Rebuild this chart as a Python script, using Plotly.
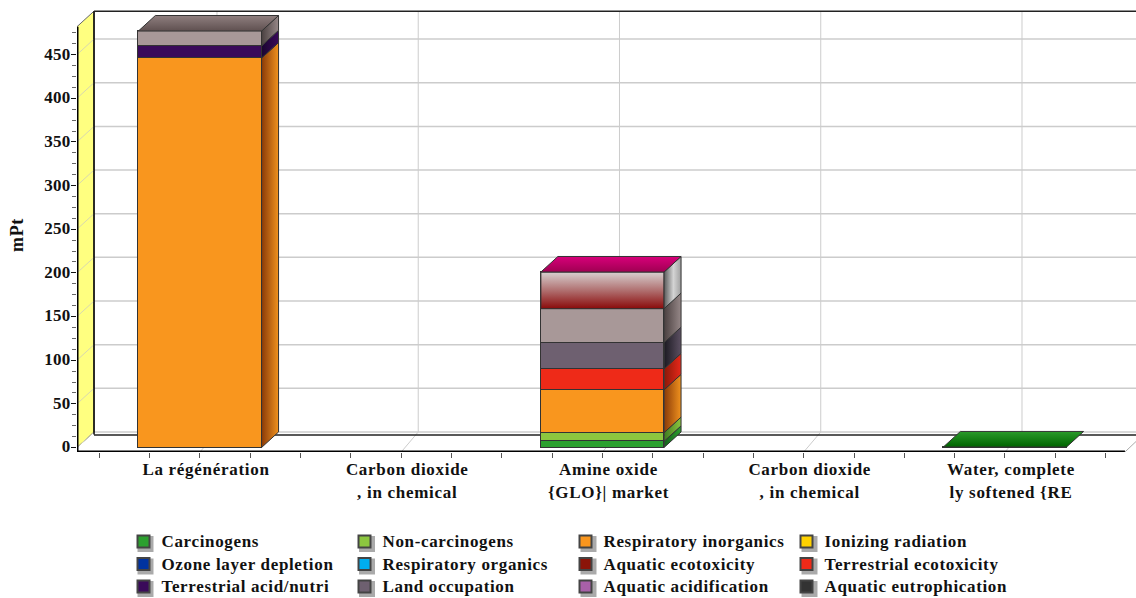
import plotly.graph_objects as go

# ---- data ----
categories = ["La régénération", "Carbon dioxide<br>, in chemical", "Amine oxide<br>{GLO}| market",
              "Carbon dioxide<br>, in chemical", "Water, complete<br>ly softened {RE"]
category_pos = [0, 1, 2, 3, 4]
carcinogens = [0, 0, 7, 0, 0.6]
non_carcinogens = [0, 0, 10, 0, 0]
respiratory_inorganics = [446, 0, 49, 0, 0]
ionizing_radiation = [0, 0, 0, 0, 0]
ozone_layer = [0, 0, 0, 0, 0]
respiratory_organics = [0, 0, 0, 0, 0]
aquatic_ecotoxicity = [0, 0, 0, 0, 0]
terrestrial_ecotoxicity = [0, 0, 24, 0, 0]
terrestrial_acid = [14, 0, 0, 0, 0]
land_occupation = [0, 0, 30, 0, 0]
aquatic_acidification = [0, 0, 0, 0, 0]
aquatic_eutrophication = [0, 0, 0, 0, 0]
global_warming = [17, 0, 39, 0, 0]
non_renewable = [0, 0, 42, 0, 0]

series_names = ["Carcinogens", "Non-carcinogens", "Respiratory inorganics", "Ionizing radiation",
                "Ozone layer depletion", "Respiratory organics", "Aquatic ecotoxicity", "Terrestrial ecotoxicity",
                "Terrestrial acid/nutri", "Land occupation", "Aquatic acidification", "Aquatic eutrophication",
                "Global warming", "Non-renewable energy"]
series_values = [carcinogens, non_carcinogens, respiratory_inorganics, ionizing_radiation,
                 ozone_layer, respiratory_organics, aquatic_ecotoxicity, terrestrial_ecotoxicity,
                 terrestrial_acid, land_occupation, aquatic_acidification, aquatic_eutrophication,
                 global_warming, non_renewable]
series_colors = ["#2CA02F", "#8CC63F", "#F9961E", "#FFD200",
                 "#0033A0", "#00AEEF", "#8B1408", "#EE2A18",
                 "#3A0A5A", "#6E6070", "#A860A8", "#333333",
                 "#A89898", "#8B1408"]
side_left = ["#14601A", "#3E7A20", "#8A3A08", "#A08000", "#001C60", "#0070A0", "#500800", "#8A1808",
             "#1A0530", "#1C1A22", "#683868", "#111111", "#4A4040", "#5A5A5A"]
side_right = ["#2CA02F", "#8CC63F", "#F0921E", "#FFD200", "#0033A0", "#00AEEF", "#8B1408", "#E8281A",
              "#3A0A5A", "#5C5062", "#A860A8", "#333333", "#968888", "#A8A8A8"]
top_faces = {12: ("#8F7F7F", "#5F5050"), 13: ("#D8007A", "#A00052"), 0: ("#2A9A2A", "#006400")}

bar_width = 0.612
dx = 0.0845
dy = 17.8
x_left, x_right = -0.611, 4.651
y_bottom, y_top = -5.15, 503.4
y_wall_top = 482
x_axis_end = 4.596

major_ticks = [0, 50, 100, 150, 200, 250, 300, 350, 400, 450]
minor_ticks = [12.5 * i for i in range(0, 39)]
x_minor = [-0.5 + 0.25 * i for i in range(0, 21)]

W, H = 1136, 598
M_L, M_T, M_B = 77, 8, 146
plot_w, plot_h = W - M_L, H - M_T - M_B


def paper_x(px):
    return (px - M_L) / plot_w


def paper_y(py):
    return (H - M_B - py) / plot_h


fig = go.Figure()
shapes = []


def seg(x0, y0, x1, y1, color, width=1, layer="below"):
    shapes.append(dict(type="line", xref="x", yref="y", x0=x0, y0=y0, x1=x1, y1=y1,
                       line=dict(color=color, width=width), layer=layer))


GRID = "#CCCCCC"
# back wall grid
for v in major_ticks:
    seg(x_left + dx, v + dy, x_right, v + dy, GRID, 1.5)
for c in category_pos:
    seg(c + dx, dy, c + dx, y_wall_top + dy, GRID, 1)
    seg(c, y_bottom, c + dx, dy, GRID, 1)
# floor line
seg(x_left + dx, 14.3, x_right, 14.3, "#222222", 1.5)
# right floor edge
seg(x_axis_end, y_bottom, x_right, y_bottom + 12, "#AAAAAA", 1)
# yellow wall
shapes.append(dict(type="path", xref="x", yref="y", layer="below",
                   path=f"M{x_left},0 L{x_left + dx},{dy} L{x_left + dx},{y_wall_top + dy} L{x_left},{y_wall_top} Z",
                   fillcolor="#FFFF80", line=dict(color="#666666", width=1)))
for v in major_ticks:
    seg(x_left, v, x_left + dx, v + dy, "#D8D8B0", 1)
seg(x_left + dx, dy - 3, x_left + dx, y_wall_top + dy, "#000000", 1.5)
seg(x_left + dx, y_wall_top + dy, x_right, y_wall_top + dy, "#222222", 1.5)

# front faces
for name, vals, col in zip(series_names, series_values, series_colors):
    fig.add_trace(go.Bar(x=category_pos, y=[v if v else None for v in vals], name=name, width=bar_width,
                         marker=dict(color=col, line=dict(color="#333333", width=1.2)),
                         showlegend=False, hoverinfo="skip"))


def poly(xs, ys, stops, kind):
    fig.add_trace(go.Scatter(x=xs + xs[:1], y=ys + ys[:1], mode="lines", fill="toself",
                             line=dict(color="#333333", width=1),
                             fillgradient=dict(type=kind, colorscale=stops),
                             showlegend=False, hoverinfo="skip", cliponaxis=False))


for i, c in enumerate(category_pos):
    base = 0
    last = None
    xa, xb = c - bar_width / 2, c + bar_width / 2
    for s, vals in enumerate(series_values):
        v = vals[i]
        if not v:
            continue
        if s == 13:
            poly([xa, xb, xb, xa], [base, base, base + v, base + v],
                 [[0, "#8A0A0A"], [0.5, "#B07070"], [1, "#D8D0D0"]], "vertical")
        if v >= 1:
            stops = [[0, side_left[s]], [1, side_right[s]]]
            if s == 13:
                stops = [[0, "#5A5A5A"], [0.55, "#D4D4D4"], [1, "#A0A0A0"]]
            poly([xb, xb + dx, xb + dx, xb], [base, base + dy, base + v + dy, base + v], stops, "horizontal")
        base += v
        last = s
    if last is not None:
        tb, tt = top_faces.get(last, ("#888888", "#555555"))
        poly([xa, xb, xb + dx, xa + dx], [base, base, base + dy, base + dy],
             [[0, tt], [1, tb]], "vertical")

# axis lines
fig.add_trace(go.Scatter(x=[x_left, x_left], y=[y_bottom, y_wall_top], mode="lines",
                         line=dict(color="#000000", width=3), showlegend=False, hoverinfo="skip", cliponaxis=False))
fig.add_trace(go.Scatter(x=[x_left, x_axis_end], y=[y_bottom, y_bottom], mode="lines",
                         line=dict(color="#000000", width=3), showlegend=False, hoverinfo="skip", cliponaxis=False))

# legend entries: one plotly legend per row so the rows sit exactly where they should
legend_ids = ["legend", "legend2", "legend3"]
row_py = [542, 564.5, 587]
col_px = [143.5, 365, 586.5, 807.5]
for k, (name, col) in enumerate(zip(series_names[:12], series_colors[:12])):
    fig.add_trace(go.Scatter(x=[None], y=[None], mode="markers", name=name, legend=legend_ids[k // 4],
                             marker=dict(symbol="square", size=17, color=col, line=dict(color="#444444", width=1))))
    cx, cy = col_px[k % 4], row_py[k // 4]
    shapes.append(dict(type="rect", xref="paper", yref="paper", layer="below",
                       x0=paper_x(cx - 6), x1=paper_x(cx + 10), y0=paper_y(cy + 10), y1=paper_y(cy - 6),
                       fillcolor="#AAAAAA", line=dict(width=0)))

FONT = "Liberation Serif"


def legend_row(py):
    return dict(orientation="h", x=paper_x(col_px[0] - 20), xanchor="left", y=paper_y(py), yanchor="middle",
                entrywidth=176, entrywidthmode="pixels", itemsizing="constant",
                traceorder="normal", bgcolor="rgba(0,0,0,0)",
                font=dict(family=FONT, size=17, weight=700, color="#111111"))


fig.update_layout(
    width=W, height=H, barmode="stack", bargap=0,
    margin=dict(l=M_L, r=0, t=M_T, b=M_B, autoexpand=False),
    paper_bgcolor="white", plot_bgcolor="white",
    shapes=shapes,
    font=dict(family=FONT, color="#111111", size=17, weight=700),
    xaxis=dict(range=[x_left, x_right], showgrid=False, zeroline=False, showline=False,
               tickmode="array", tickvals=category_pos, ticktext=categories,
               ticks="outside", ticklen=5, tickcolor="#555555", tickwidth=1,
               minor=dict(tickmode="array", tickvals=x_minor, ticks="outside", ticklen=5, tickcolor="#555555", tickwidth=1),
               tickfont=dict(family=FONT, size=17, weight=700), ticklabelstandoff=-3, ticklabelshift=6),
    yaxis=dict(range=[y_bottom, y_top], showgrid=False, zeroline=False, showline=False,
               tickmode="array", tickvals=major_ticks, ticktext=[str(v) for v in major_ticks],
               ticks="outside", ticklen=5, tickcolor="#111111", tickwidth=1,
               minor=dict(tickmode="array", tickvals=minor_ticks, ticks="outside", ticklen=4, tickcolor="#666666", tickwidth=1),
               tickfont=dict(family=FONT, size=17, weight=700), ticklabelstandoff=-3, ticklabelshift=-1),
    legend=legend_row(row_py[0]),
    legend2=legend_row(row_py[1]),
    legend3=legend_row(row_py[2]),
    annotations=[dict(text="mPt", xref="paper", yref="paper", x=paper_x(17), y=paper_y(235),
                      xanchor="center", yanchor="middle", showarrow=False,
                      textangle=-90, font=dict(family=FONT, size=18, weight=700))],
)
css = ("var st=document.createElement('style');"
       "st.textContent='.legendtext,.legend2text,.legend3text{letter-spacing:0.65px !important;transform:translate(-2px,-1px)}"
       ".xtick text,.annotation-text{letter-spacing:0.7px !important}"
       ".ytick text{letter-spacing:0.3px !important}';"
       "document.head.appendChild(st);document.body.style.margin='0';")
fig.write_html("out.html", post_script=css, config={"displayModeBar": False})
